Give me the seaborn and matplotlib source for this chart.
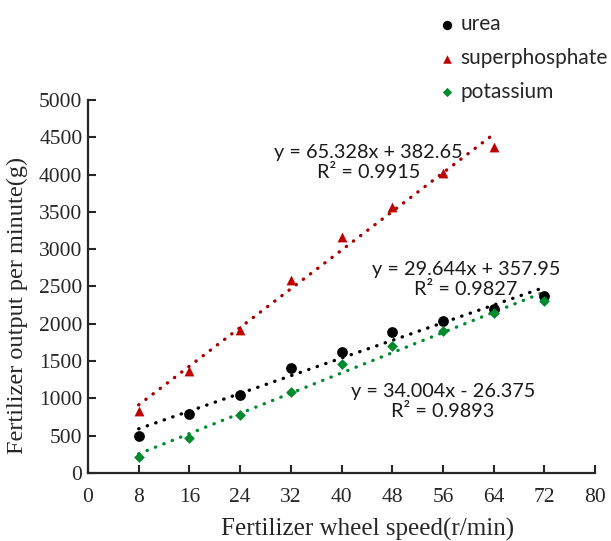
import numpy as np
import matplotlib.pyplot as plt
import seaborn as sns

speed = [8, 16, 24, 32, 40, 48, 56, 64, 72]
urea = [495, 787, 1045, 1403, 1625, 1890, 2037, 2198, 2377]
speed_sp = [8, 16, 24, 32, 40, 48, 56, 64]
superphosphate = [831, 1367, 1917, 2587, 3160, 3561, 4026, 4370]
potassium = [210, 465, 777, 1090, 1461, 1707, 1903, 2141, 2306]

eq_texts = ["y = 65.328x + 382.65\nR² = 0.9915",
            "y = 29.644x + 357.95\nR² = 0.9827",
            "y = 34.004x - 26.375\nR² = 0.9893"]
eq_pos = [(44.2, 4162), (59.6, 2594), (56.0, 958)]

sns.set_style('ticks')
plt.rcParams['font.family'] = ['Liberation Serif', 'DejaVu Serif']

fig = plt.figure(figsize=(6.11, 5.41), dpi=100)
ax = fig.add_axes([0.144, 0.126, 0.830, 0.689])

series = [
    ('urea', speed, urea, 'o', 'black', 'black', 60),
    ('superphosphate', speed_sp, superphosphate, '^', '#c00000', '#a80000', 50),
    ('potassium', speed, potassium, 'D', '#008a2e', '#008a2e', 30),
]
handles = []
for name, xs, ys, mk, col, lcol, sz in series:
    sns.regplot(x=xs, y=ys, ax=ax, ci=None, marker=mk,
                scatter_kws=dict(color=col, s=sz, zorder=3, linewidths=0, alpha=1),
                line_kws=dict(color=lcol, linestyle=(0, (0.1, 2.6)), linewidth=2.4,
                              dash_capstyle='round', zorder=2))
    handles.append(ax.scatter([], [], marker=mk, color=col, s=sz * 0.75, linewidths=0, label=name))

for txt, (tx, ty) in zip(eq_texts, eq_pos):
    ax.text(tx, ty, txt, ha='center', va='center', fontsize=14.3, family=['Lato', 'DejaVu Sans'],
            color='#1a1a1a', linespacing=1.2)

ax.set_xlim(0, 80)
ax.set_ylim(0, 5000)
ax.set_xticks(np.arange(0, 81, 8))
ax.set_yticks(np.arange(0, 5001, 500))
ax.tick_params(direction='in', length=6, width=1.5, labelsize=15.5)
ax.tick_params(axis='x', pad=11)
ax.tick_params(axis='y', pad=4)
for s in ['left', 'bottom']:
    ax.spines[s].set_linewidth(1.6)
sns.despine(ax=ax)
ax.set_xlabel('Fertilizer wheel speed(r/min)', fontsize=18)
ax.set_ylabel('Fertilizer output per minute(g)', fontsize=17.5)
ax.xaxis.set_label_coords(0.552, -0.122)
ax.yaxis.set_label_coords(-0.118, 0.45)

fig.legend(handles=handles, loc='upper right', bbox_to_anchor=(1.026, 1.008), frameon=False,
           prop={'family': ['Lato', 'DejaVu Sans'], 'size': 15}, labelspacing=0.66,
           handletextpad=0.15, handlelength=1.0)

fig.savefig('out.png', dpi=100)
